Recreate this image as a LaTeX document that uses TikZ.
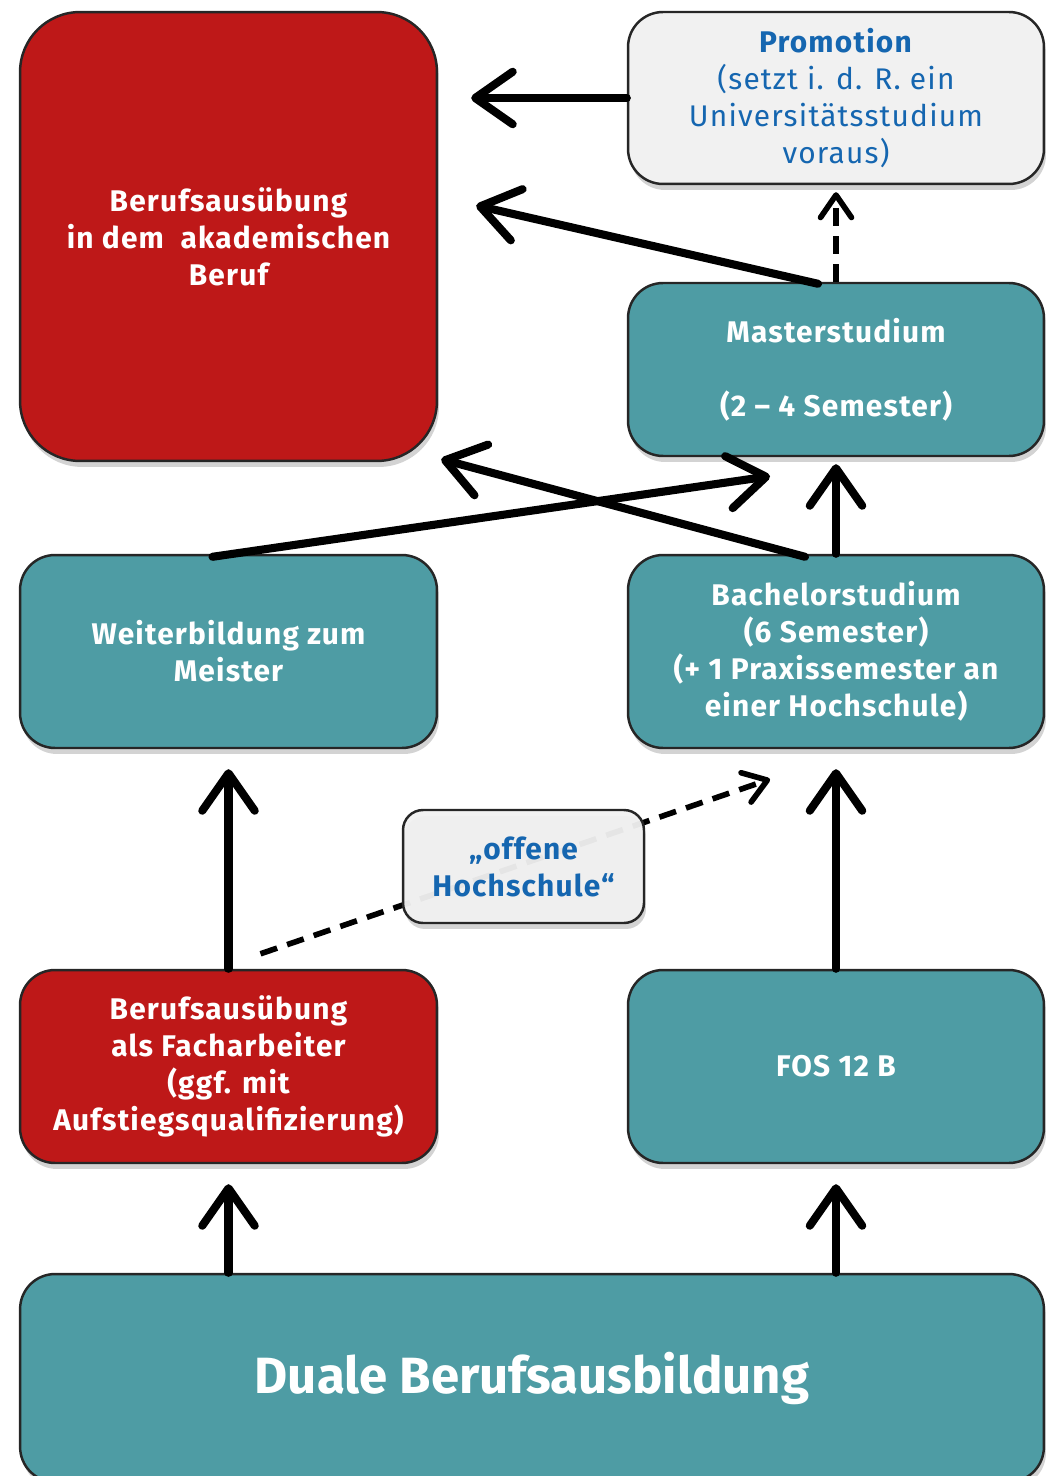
\documentclass[tikz,border=0pt]{standalone}
\usepackage{fontspec}
\setmainfont{Fira Sans}[LetterSpace=4]
\newfontfamily\dualefont{Fira Sans}
\usetikzlibrary{arrows.meta,shadows}

\definecolor{rot}{HTML}{BE1818}
\definecolor{petrol}{HTML}{4E9CA4}
\definecolor{hellgrau}{HTML}{F1F1F1}
\definecolor{blau}{HTML}{1566B0}

\tikzset{
    kasten/.style={draw=black!85, line width=1.4pt, rounded corners=0.7cm, align=center,
        text=white, font=\fontsize{17}{21}\selectfont\bfseries,
        drop shadow={opacity=0.35, shadow xshift=0.04cm, shadow yshift=-0.12cm}},
    roterkasten/.style={kasten, fill=rot},
    blauerkasten/.style={kasten, fill=petrol},
    grauerkasten/.style={kasten, fill=hellgrau, text=blau, font=\fontsize{17}{21}\selectfont},
    pfeil/.style={line width=4.6pt, line cap=round,
        -{Straight Barb[length=0.75cm, width=1.05cm, line cap=round, line join=round]}},
    strichpfeil/.style={line width=3.2pt, dash pattern=on 10pt off 6pt,
        -{Straight Barb[length=0.45cm, width=0.62cm, line cap=round, line join=round]}}
}

\begin{document}
\begin{tikzpicture}[x=0.02cm, y=-0.02cm]
    \useasboundingbox (0,0) rectangle (1054,1476);

    % boxes, top row
    \node[roterkasten, minimum width=8.34cm, minimum height=8.98cm, rounded corners=1.2cm] (beruf) at (228.5,236.5)
        {Berufsausübung\\in dem~ akademischen\\Beruf};
    \node[grauerkasten, minimum width=8.32cm, minimum height=3.44cm] (promo) at (836,98)
        {\textbf{Promotion}\\(setzt i. d. R. ein\\Universitätsstudium\\voraus)};
    \node[blauerkasten, minimum width=8.32cm, minimum height=3.46cm] (master) at (836,369.5)
        {Masterstudium\\ \\(2 – 4 Semester)};

    % middle row
    \node[blauerkasten, minimum width=8.34cm, minimum height=3.86cm] (weiter) at (228.5,651.5)
        {Weiterbildung zum\\Meister};
    \node[blauerkasten, minimum width=8.32cm, minimum height=3.86cm] (bachelor) at (836,651.5)
        {Bachelorstudium\\(6 Semester)\\(+ 1 Praxissemester an\\einer Hochschule)};

    % lower row
    \node[roterkasten, minimum width=8.34cm, minimum height=3.86cm] (fach) at (228.5,1066.5)
        {Berufsausübung\\als Facharbeiter\\(ggf. mit\\Aufstiegsqualifizierung)};
    \node[blauerkasten, minimum width=8.32cm, minimum height=3.86cm] (fos) at (836,1066.5)
        {FOS 12 B};

    % Duale Berufsausbildung
    \node[blauerkasten, minimum width=20.48cm, minimum height=4.16cm, font=\fontsize{29}{36}\selectfont\dualefont\bfseries] (duale) at (532,1378)
        {Duale Berufsausbildung};

    % arrows
    \draw[pfeil, shorten >=0.66cm] (promo.west) -- (promo.west -| beruf.east);
    \draw[pfeil] ([xshift=-0.36cm,yshift=-0.04cm]master.north) -- ([xshift=0.76cm,yshift=0.62cm]beruf.east);
    \draw[strichpfeil, shorten >=0.14cm] (master.north) -- (promo.south);
    \draw[pfeil] ([xshift=-0.32cm,yshift=-0.06cm]weiter.north) -- ([xshift=-1.32cm,yshift=-0.38cm]master.south);
    \draw[pfeil] ([xshift=-0.62cm,yshift=-0.06cm]bachelor.north) -- ([xshift=0.06cm,yshift=0.06cm]beruf.south east);
    \draw[pfeil, shorten >=0.14cm] (bachelor.north) -- (master.south);
    \draw[pfeil, shorten >=0.4cm] (fach.north) -- (weiter.south);
    \draw[pfeil, shorten >=0.4cm] (fos.north) -- (bachelor.south);
    \draw[pfeil, shorten >=0.4cm] (duale.north -| fach.south) -- (fach.south);
    \draw[pfeil, shorten >=0.4cm] (duale.north -| fos.south) -- (fos.south);

    % dashed arrow behind the box
    \draw[strichpfeil] ([xshift=0.64cm,yshift=0.3cm]fach.north) -- ([xshift=-1.32cm,yshift=-0.6cm]bachelor.south);
    \node[grauerkasten, minimum width=4.82cm, minimum height=2.26cm, rounded corners=0.4cm, fill opacity=0.94, text opacity=1,
        font=\fontsize{17}{21}\selectfont\bfseries] (hoch) at (523.5,866.5)
        {„offene\\Hochschule“};
\end{tikzpicture}
\end{document}
